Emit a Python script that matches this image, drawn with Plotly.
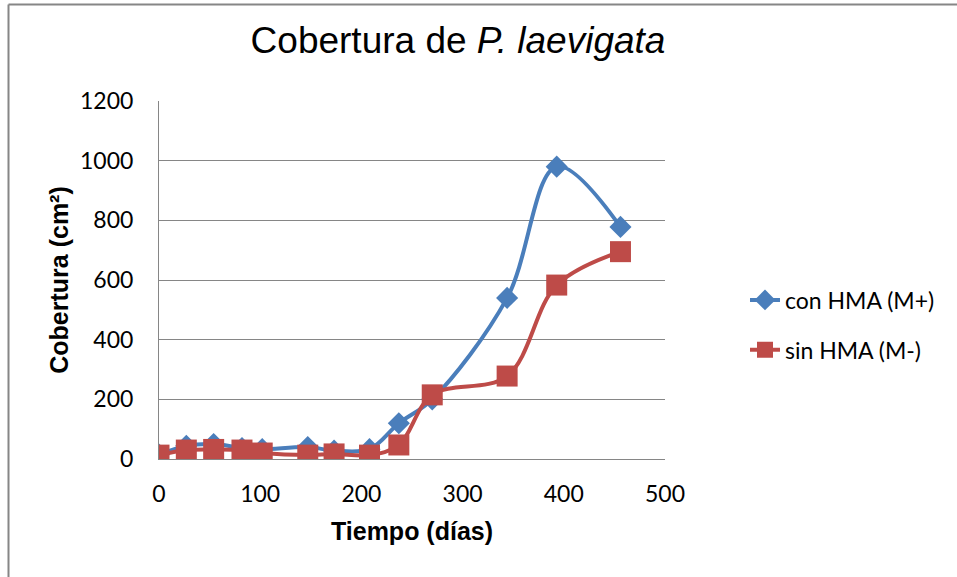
import plotly.graph_objects as go

# Data
days = [0, 27, 54, 82, 102, 147, 173, 208, 237, 270, 344, 393, 456]
con_hma = [15, 44, 50, 37, 33, 40, 28, 33, 120, 200, 540, 980, 778]
sin_hma = [13, 30, 32, 30, 20, 13, 17, 13, 47, 215, 278, 583, 695]
series_names = ["con HMA (M+)", "sin HMA (M-)"]
x_ticks = [0, 100, 200, 300, 400, 500]
y_ticks = [0, 200, 400, 600, 800, 1000, 1200]

BLUE = "#4A7EBB"
RED = "#BE4B48"
GRID = "#868686"
TICK_FONT = dict(family="Lato, Liberation Sans, Arial", size=23, color="#000000")

W, H = 957, 577
L, R, T, B = 159, 292, 101, 118
pw, ph = W - L - R, H - T - B

fig = go.Figure()
fig.add_trace(go.Scatter(
    x=days, y=con_hma, name=series_names[0], mode="lines+markers",
    line=dict(color=BLUE, width=4, shape="spline", smoothing=1),
    marker=dict(symbol="diamond", size=17, color=BLUE),
    legendgroup="a",
))
fig.add_trace(go.Scatter(
    x=days, y=sin_hma, name=series_names[1], mode="lines+markers",
    line=dict(color=RED, width=4, shape="spline", smoothing=1),
    marker=dict(symbol="square", size=21, color=RED),
    legendgroup="b",
))

# outer chart border (left and top edges visible)
bx0 = (8.5 - L) / pw
by1 = (H - B - 4.5) / ph
fig.add_shape(type="line", xref="paper", yref="paper", x0=bx0, x1=bx0,
              y0=by1, y1=-(B + 5) / ph, line=dict(color=GRID, width=2))
fig.add_shape(type="line", xref="paper", yref="paper", x0=bx0, x1=(W - L + 5) / pw,
              y0=by1, y1=by1, line=dict(color=GRID, width=2))

fig.update_layout(
    width=W, height=H,
    margin=dict(l=L, r=R, t=T, b=B, autoexpand=False),
    paper_bgcolor="white", plot_bgcolor="white",
    title=dict(
        text="Cobertura de <i>P. laevigata</i>",
        font=dict(family="Liberation Sans, Arial", size=37, color="#000000"),
        xref="container", yref="container",
        x=458 / W, xanchor="center", y=1 - 40 / H, yanchor="middle",
    ),
    xaxis=dict(
        range=[0, 500], tickvals=x_ticks, ticktext=[str(v) for v in x_ticks],
        showgrid=False, zeroline=False, showline=True, linecolor=GRID, linewidth=1,
        ticks="", tickfont=TICK_FONT, ticklabelstandoff=14,
        title=dict(text="<b>Tiempo (días)</b>", standoff=16,
                   font=dict(family="Liberation Sans, Arial", size=25, color="#000000")),
    ),
    yaxis=dict(
        range=[0, 1200], tickvals=y_ticks, ticktext=[str(v) for v in y_ticks],
        showgrid=True, gridcolor=GRID, gridwidth=1, zeroline=False,
        showline=True, linecolor=GRID, linewidth=1,
        ticks="", tickfont=TICK_FONT, ticklabelstandoff=20,
        title=dict(text="<b>Cobertura (cm²)</b>", standoff=4,
                   font=dict(family="Liberation Sans, Arial", size=25, color="#000000")),
    ),
    legend=dict(
        xref="container", yref="container",
        x=745 / W, xanchor="left", y=1 - 325 / H, yanchor="middle",
        font=TICK_FONT, traceorder="grouped", tracegroupgap=17,
        bgcolor="rgba(0,0,0,0)",
    ),
    showlegend=True,
)

fig.write_html("out.html", config={"displayModeBar": False},
               post_script="document.body.style.margin='0';")
